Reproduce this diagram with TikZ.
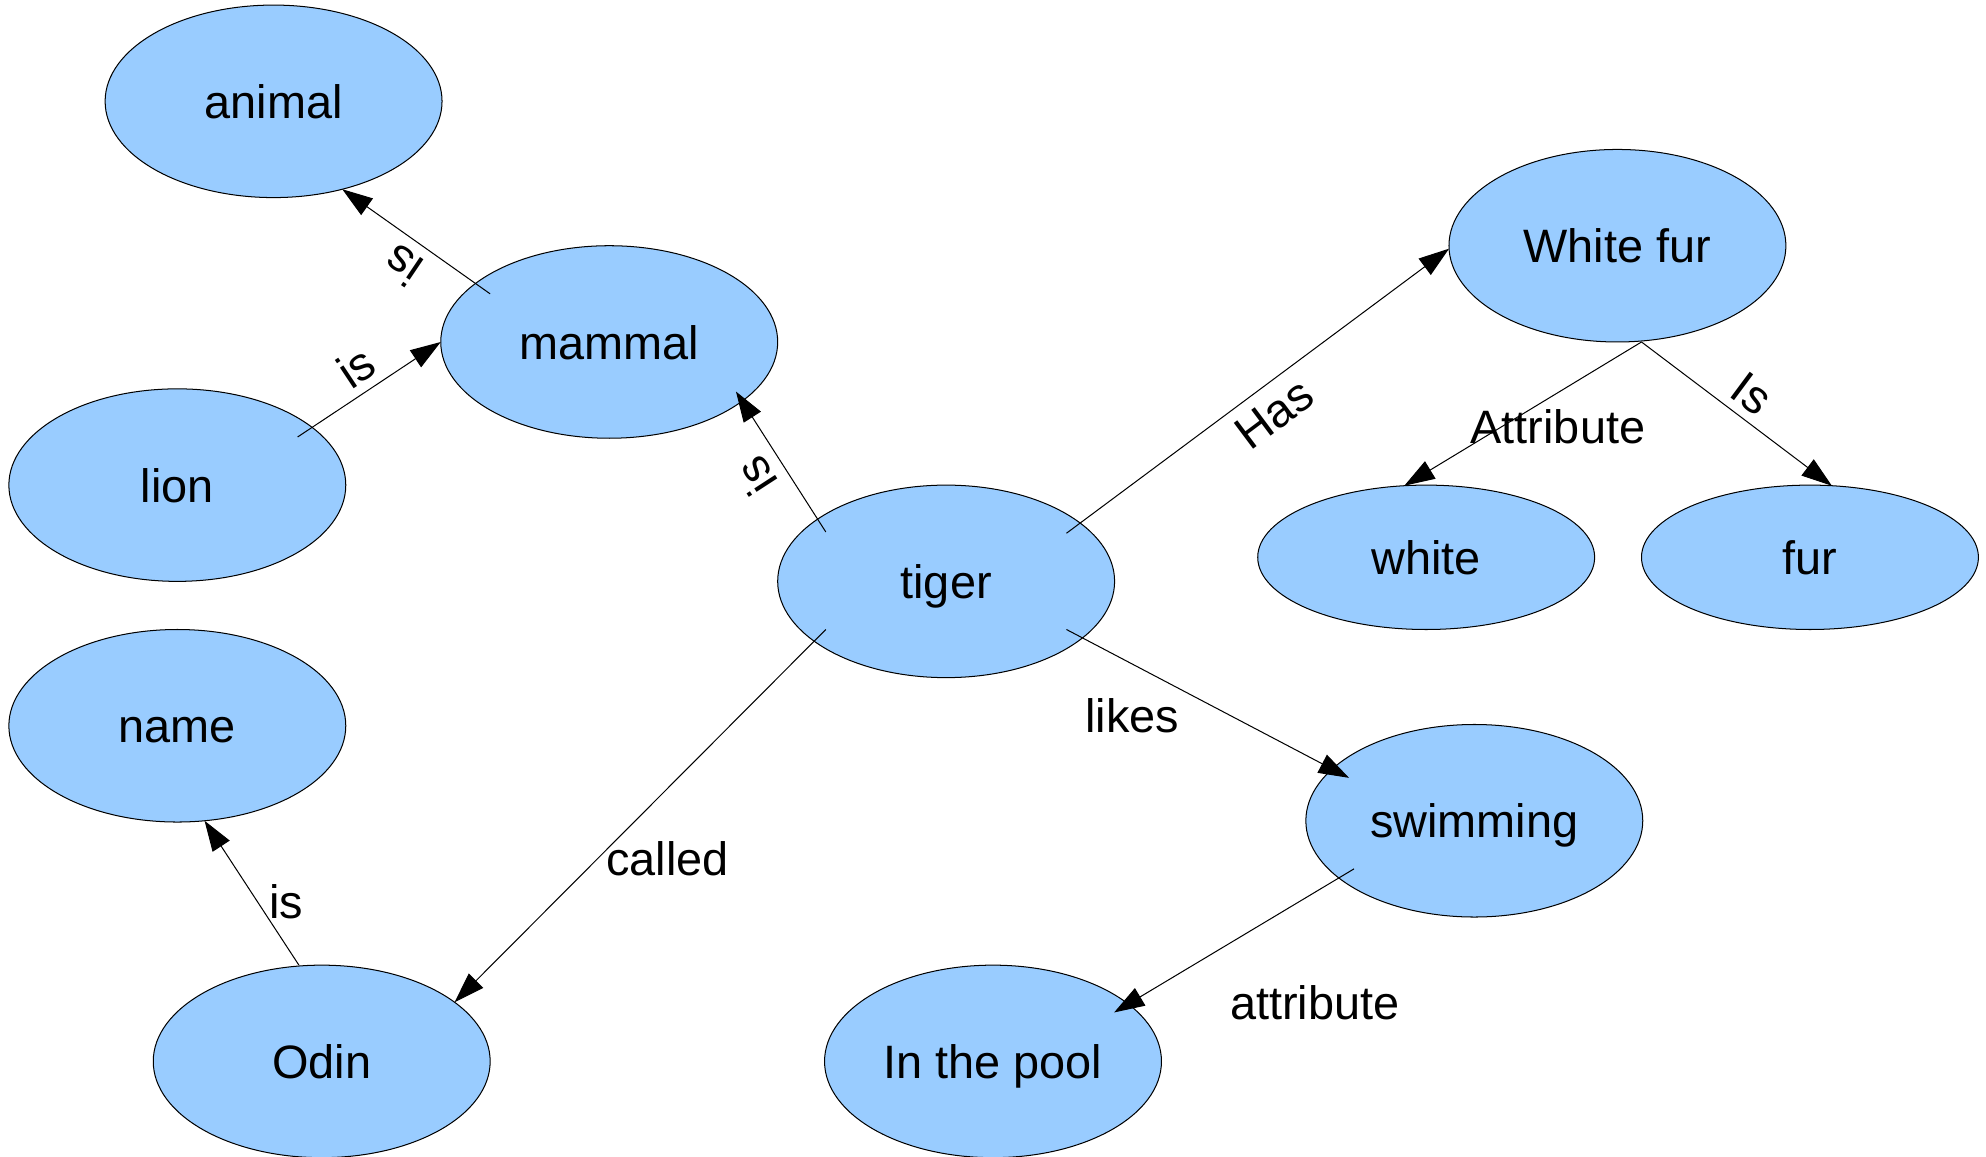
\documentclass[tikz,border=0pt]{standalone}
\usepackage{fontspec}
\setmainfont{Liberation Sans}
\usetikzlibrary{shapes.geometric,arrows.meta,calc}
\definecolor{nodeblue}{HTML}{99CCFF}
\begin{document}
\begin{tikzpicture}[x=1pt,y=-1pt,
  concept/.style={ellipse,draw=black,line width=0.8pt,fill=nodeblue,
    minimum width=266pt,minimum height=152pt,inner sep=0pt,outer sep=0pt,
    text height=27pt,text depth=0pt,
    font=\fontsize{37}{44}\selectfont},
  small/.style={concept,minimum height=114pt},
  rel/.style={draw=black,line width=0.8pt,-{Triangle[length=24pt,width=16pt]}},
  lbl/.style={inner sep=0pt,font=\fontsize{37}{44}\selectfont}]
\useasboundingbox (0,0) rectangle (1568,913);
% nodes
\node[concept] (animal) at (216,80) {animal};
\node[concept] (mammal) at (481,270) {mammal};
\node[concept] (lion) at (140,383) {lion};
\node[concept] (tiger) at (747,459) {tiger};
\node[concept] (name) at (140,573) {name};
\node[concept] (odin) at (254,838) {Odin};
\node[concept] (whitefur) at (1277,194) {White fur};
\node[small] (white) at (1126,440) {white};
\node[small] (fur) at (1429,440) {fur};
\node[concept] (swimming) at (1164,648) {swimming};
\node[concept] (pool) at (784,838) {In the pool};
% connector start points inside the source shapes
\coordinate (s1) at (387,232);
\coordinate (s2) at (235,345);
\coordinate (s3) at (652,420);
\coordinate (s4) at (842,421);
\coordinate (s5) at (1296,270);
\coordinate (s7) at (842,497);
\coordinate (s8) at (652,497);
\coordinate (s9) at (236,762);
\coordinate (s10) at (1069,686);
% connectors
\draw[rel] (s1) -- (animal.-52);
\draw[rel] (s2) -- (mammal.180);
\draw[rel,shorten >=-9pt] (s3) -- (mammal.-24);
\draw[rel] (s4) -- (whitefur.181);
\draw[rel] (s5) -- (white.107);
\draw[rel] (s5) -- (fur.73);
\draw[rel,shorten >=-15pt] (s7) -- (swimming.160);
\draw[rel] (s8) -- (odin.24);
\draw[rel] (s9) -- (name.-74);
\draw[rel,shorten >=-13pt] (s10) -- (pool.23);
% labels
\node[lbl,rotate=146] (l1) at (318,210) {is};
\node[lbl,rotate=33.6] (l2) at (281,290) {is};
\node[lbl,rotate=123] (l3) at (597,376) {is};
\node[lbl,rotate=36.8] (l4) at (1006,327) {Has};
\node[lbl] (l5) at (1230,337) {Attribute};
\node[lbl,rotate=-36.6] (l6) at (1383,311) {Is};
\node[lbl] (l7) at (894,565) {likes};
\node[lbl] (l8) at (527,678) {called};
\node[lbl] (l9) at (226,712) {is};
\node[lbl] (l10) at (1038,792) {attribute};
\end{tikzpicture}
\end{document}
